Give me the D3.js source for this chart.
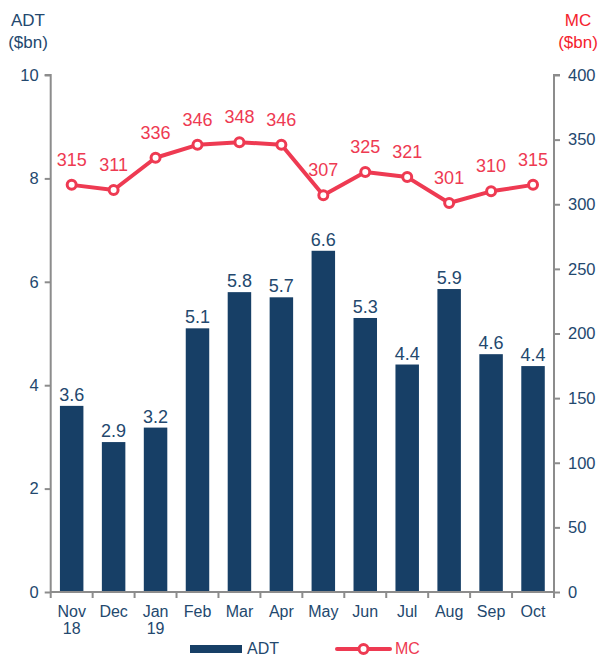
<!DOCTYPE html>
<html>
<head>
<meta charset="utf-8">
<script src="https://cdn.jsdelivr.net/npm/d3@7"></script>
<style>
  body { margin: 0; background: #fff; }
  text { font-family: "Liberation Sans", Arial, sans-serif; }
</style>
</head>
<body>
<svg id="chart" width="600" height="656"></svg>
<script>
/* Daten */
const months = ["Nov", "Dec", "Jan", "Feb", "Mar", "Apr", "May", "Jun", "Jul", "Aug", "Sep", "Oct"];
const years = ["18", "", "19", "", "", "", "", "", "", "", "", ""];
const adt = [3.6, 2.9, 3.18, 5.1, 5.8, 5.7, 6.6, 5.3, 4.4, 5.86, 4.6, 4.37];
const mc = [315, 311, 336, 346, 348, 346, 307, 325, 321, 301, 310, 315];
const leftTicks = [0, 2, 4, 6, 8, 10];
const rightTicks = [0, 50, 100, 150, 200, 250, 300, 350, 400];

const navy = "#173f66", red = "#ee3a52", axisText = "#23486e", grey = "#8c8c8c";

const svg = d3.select("#chart");
const plotLeft = 50.7, plotRight = 554, plotTop = 75, plotBottom = 592;

const x = d3.scaleBand().domain(months).range([plotLeft, plotRight]).paddingInner(0.44).paddingOuter(0.22);
const yL = d3.scaleLinear().domain([0, 10]).range([plotBottom, plotTop]);
const yR = d3.scaleLinear().domain([0, 400]).range([plotBottom, plotTop]);
const xc = d => x(d) + x.bandwidth() / 2;

/* Balken */
svg.selectAll("rect.bar").data(adt).join("rect")
  .attr("class", "bar")
  .attr("x", (d, i) => x(months[i]))
  .attr("y", d => yL(d))
  .attr("width", x.bandwidth())
  .attr("height", d => plotBottom - yL(d))
  .attr("fill", navy);

svg.selectAll("text.barlbl").data(adt).join("text")
  .attr("class", "barlbl")
  .attr("x", (d, i) => xc(months[i]))
  .attr("y", d => yL(d) - 5)
  .attr("text-anchor", "middle")
  .attr("font-size", 18)
  .attr("fill", axisText)
  .text(d => d.toFixed(1));

/* Achsen */
const axL = svg.append("g").attr("transform", `translate(${plotLeft},0)`)
  .call(d3.axisLeft(yL).tickValues(leftTicks).tickSize(6).tickPadding(6));
const axR = svg.append("g").attr("transform", `translate(${plotRight},0)`)
  .call(d3.axisRight(yR).tickValues(rightTicks).tickSize(6).tickPadding(8));
[axL, axR].forEach(a => {
  a.select(".domain").attr("stroke", grey).attr("stroke-width", 2);
  a.selectAll(".tick line").attr("stroke", grey).attr("stroke-width", 2);
  a.selectAll(".tick text").attr("fill", axisText).attr("font-size", 16.5)
    .attr("font-family", "Liberation Sans, Arial, sans-serif");
});
axL.select(".domain").attr("d", `M-6,${plotTop}H0V${plotBottom}`);
axR.select(".domain").attr("d", `M6,${plotTop}H0V${plotBottom}`);

// x-Achse mit Strichen an den Bandgrenzen
const xAxis = svg.append("g");
xAxis.append("line").attr("x1", plotLeft).attr("x2", plotRight).attr("y1", plotBottom).attr("y2", plotBottom)
  .attr("stroke", grey).attr("stroke-width", 2);
const edges = d3.range(months.length + 1).map(i => plotLeft + i * (plotRight - plotLeft) / months.length);
xAxis.selectAll("line.tk").data(edges).join("line")
  .attr("class", "tk")
  .attr("x1", d => d).attr("x2", d => d)
  .attr("y1", plotBottom).attr("y2", plotBottom + 6)
  .attr("stroke", grey).attr("stroke-width", 2);
xAxis.selectAll("text.m").data(months).join("text")
  .attr("class", "m")
  .attr("x", d => xc(d)).attr("y", 617)
  .attr("text-anchor", "middle").attr("font-size", 16).attr("fill", axisText)
  .text(d => d);
xAxis.selectAll("text.yr").data(years).join("text")
  .attr("class", "yr")
  .attr("x", (d, i) => xc(months[i])).attr("y", 634)
  .attr("text-anchor", "middle").attr("font-size", 16).attr("fill", axisText)
  .text(d => d);

/* Achsentitel */
svg.append("text").attr("x", 28).attr("y", 26).attr("text-anchor", "middle")
  .attr("font-size", 17).attr("fill", axisText).text("ADT");
svg.append("text").attr("x", 28).attr("y", 48).attr("text-anchor", "middle")
  .attr("font-size", 17).attr("fill", axisText).text("($bn)");
svg.append("text").attr("x", 578).attr("y", 26).attr("text-anchor", "middle")
  .attr("font-size", 17).attr("fill", "#f5222d").text("MC");
svg.append("text").attr("x", 578).attr("y", 48).attr("text-anchor", "middle")
  .attr("font-size", 17).attr("fill", "#f5222d").text("($bn)");

/* Linie */
const line = d3.line().x((d, i) => xc(months[i])).y(d => yR(d));
svg.append("path").datum(mc)
  .attr("d", line).attr("fill", "none")
  .attr("stroke", red).attr("stroke-width", 4).attr("stroke-linejoin", "round");
svg.selectAll("circle.pt").data(mc).join("circle")
  .attr("class", "pt")
  .attr("cx", (d, i) => xc(months[i])).attr("cy", d => yR(d))
  .attr("r", 4.5).attr("fill", "#fff").attr("stroke", red).attr("stroke-width", 3);
svg.selectAll("text.mclbl").data(mc).join("text")
  .attr("class", "mclbl")
  .attr("x", (d, i) => xc(months[i])).attr("y", d => yR(d) - 19)
  .attr("text-anchor", "middle").attr("font-size", 18).attr("fill", red)
  .text(d => d);

/* Legende */
const lg = svg.append("g");
lg.append("rect").attr("x", 190).attr("y", 645).attr("width", 52).attr("height", 8).attr("fill", navy);
lg.append("text").attr("x", 247).attr("y", 654).attr("font-size", 16).attr("fill", axisText).text("ADT");
lg.append("line").attr("x1", 337).attr("x2", 390).attr("y1", 649).attr("y2", 649)
  .attr("stroke", red).attr("stroke-width", 4).attr("stroke-linecap", "round");
lg.append("circle").attr("cx", 363.5).attr("cy", 649).attr("r", 4.5)
  .attr("fill", "#fff").attr("stroke", red).attr("stroke-width", 3);
lg.append("text").attr("x", 395).attr("y", 654).attr("font-size", 16).attr("fill", red).text("MC");
</script>
</body>
</html>
